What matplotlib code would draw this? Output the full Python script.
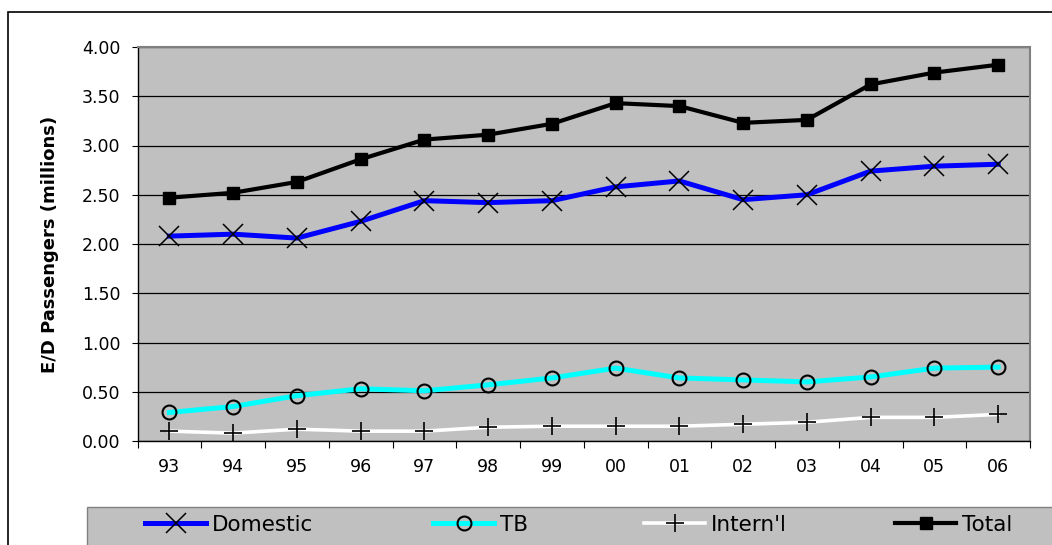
import matplotlib.pyplot as plt
from matplotlib.patches import Rectangle
import numpy as np

plt.rcParams['font.family'] = ['DejaVu Sans']

years = ["93", "94", "95", "96", "97", "98", "99", "00", "01", "02", "03", "04", "05", "06"]
domestic = [2.08, 2.10, 2.06, 2.23, 2.44, 2.42, 2.44, 2.58, 2.64, 2.45, 2.50, 2.74, 2.79, 2.81]
tb = [0.29, 0.35, 0.46, 0.53, 0.51, 0.57, 0.64, 0.74, 0.64, 0.62, 0.60, 0.65, 0.74, 0.75]
intl = [0.10, 0.08, 0.12, 0.10, 0.10, 0.14, 0.15, 0.15, 0.15, 0.17, 0.19, 0.24, 0.24, 0.27]
total = [2.47, 2.52, 2.63, 2.86, 3.06, 3.11, 3.22, 3.43, 3.40, 3.23, 3.26, 3.62, 3.74, 3.82]

W, H = 1052, 545
fig = plt.figure(figsize=(W / 100, H / 100), dpi=100)

# outer chart frame (clipped on right/bottom like the original)
fig.patches.append(Rectangle((7.5 / W, -0.2), 1.2, 1 - 12 / H + 0.2, transform=fig.transFigure,
                             fill=False, edgecolor="black", linewidth=1.2))
# legend background box
fig.patches.append(Rectangle((87 / W, -0.2), 1.2, (545 - 507) / H + 0.2, transform=fig.transFigure,
                             facecolor="#C0C0C0", edgecolor="#808080", linewidth=1))

ax = fig.add_axes([137.5 / W, 1 - 441 / H, (1030 - 137.5) / W, (441 - 47) / H])
ax.set_facecolor("#C0C0C0")

x = np.arange(len(years))
series = [
    ("Domestic", domestic, dict(color="#0000FF", lw=3.6, marker="x", ms=14.5, mew=1.1)),
    ("TB", tb, dict(color="#00FFFF", lw=3.6, marker="o", ms=10, mfc="none", mew=1.5)),
    ("Intern'l", intl, dict(color="white", lw=2.6, marker="+", ms=13, mew=1.2)),
    ("Total", total, dict(color="black", lw=3.0, marker="s", ms=8.5, mew=1)),
]
lines = []
for name, vals, st in series:
    ln, = ax.plot(x, vals, label=name, mec="black", mfc=st.pop("mfc", "black"), zorder=3, **st)
    lines.append(ln)

ax.set_xlim(-0.5, len(years) - 0.5)
ax.set_ylim(0, 4)
yt = np.arange(0, 4.01, 0.5)
ax.set_yticks(yt)
ax.set_yticklabels(["%.2f" % v for v in yt], fontsize=12.5)
ax.set_xticks(x)
ax.set_xticklabels(years, fontsize=12.5)
ax.set_xticks(np.arange(-0.5, len(years), 1), minor=True)
ax.tick_params(axis="x", which="major", length=0, pad=12)
ax.tick_params(axis="x", which="minor", length=5, width=0.8, direction="out")
ax.tick_params(axis="y", length=4.5, width=0.8, pad=8)
ax.yaxis.grid(True, color="black", linewidth=0.9)
ax.set_axisbelow(True)
for s in ["top", "right"]:
    ax.spines[s].set_color("#808080")
    ax.spines[s].set_linewidth(1.5)
for s in ["left", "bottom"]:
    ax.spines[s].set_color("black")
    ax.spines[s].set_linewidth(1)

ax.set_ylabel("E/D Passengers (millions)", fontsize=13, fontweight="bold", labelpad=16)

# legend entries placed like the original
legend_x = [145, 433, 644, 895]
for ln, lx in zip(lines, legend_x):
    fig.legend(handles=[ln], loc="center left", bbox_to_anchor=(lx / W, 1 - 525 / H),
               frameon=False, fontsize=15.5, handlelength=2.85, handletextpad=0.25,
               borderpad=0, borderaxespad=0)

fig.savefig("out.png", dpi=100)
